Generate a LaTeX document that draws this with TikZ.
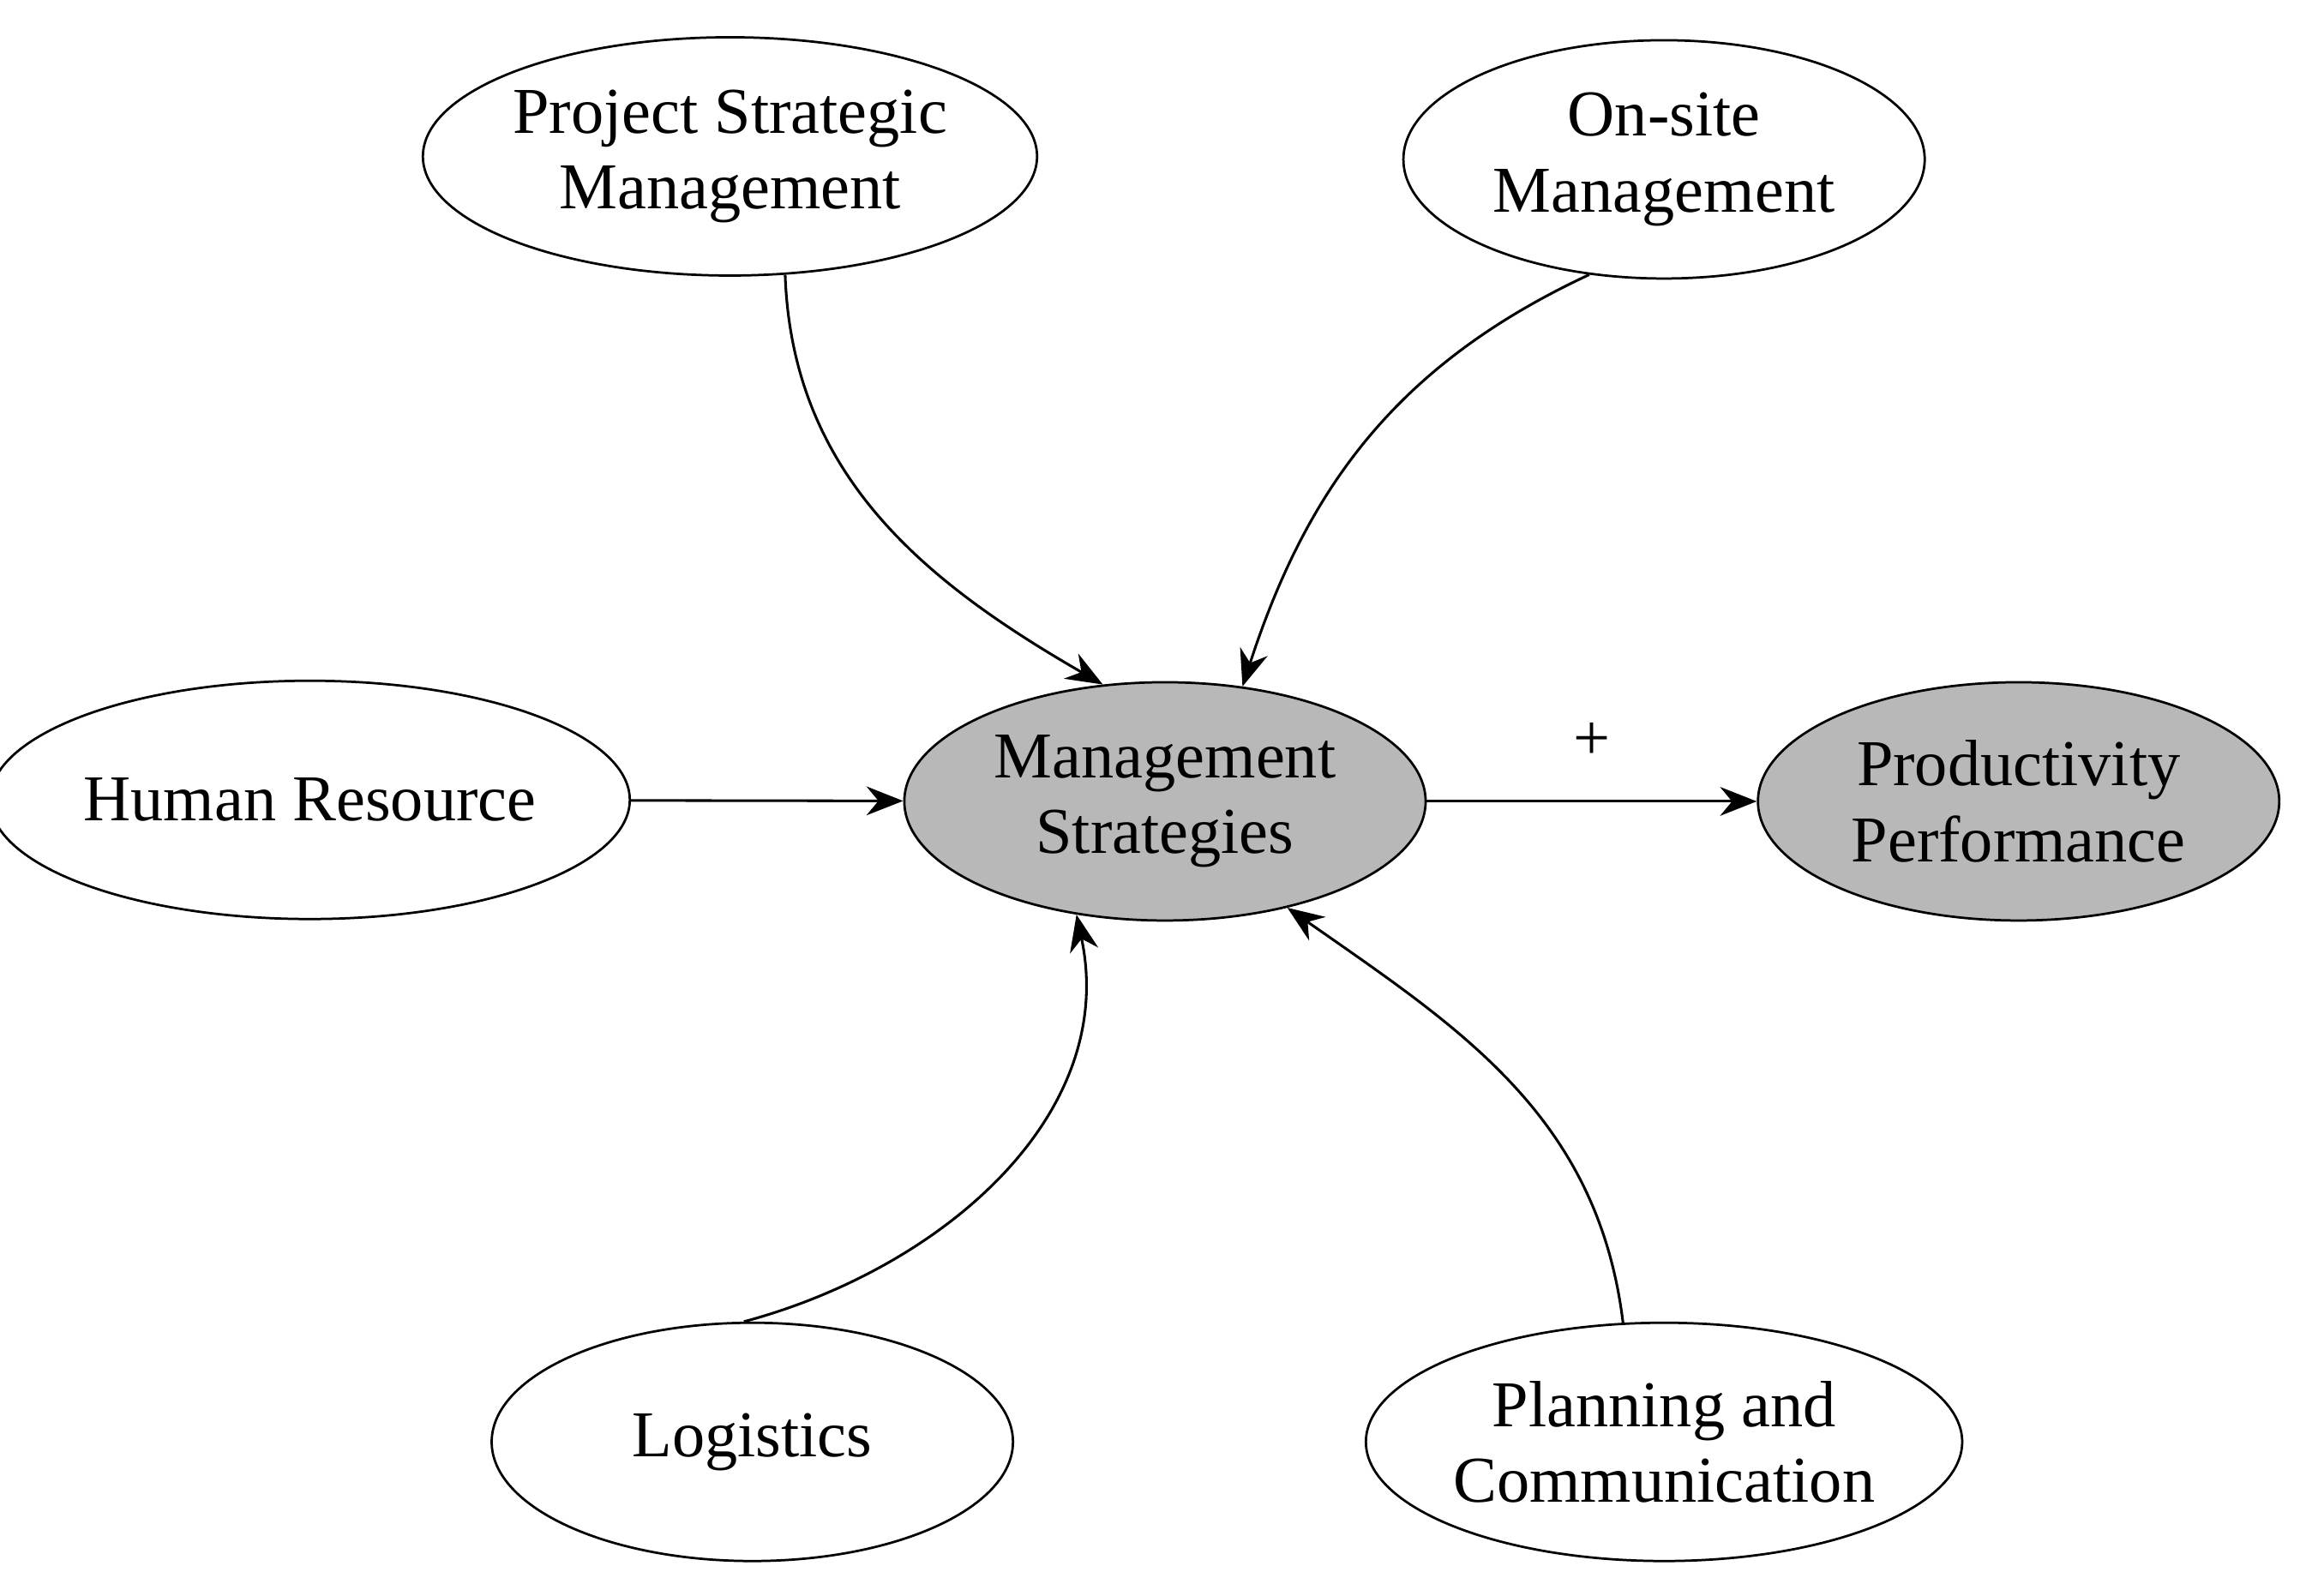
\documentclass[tikz,border=0pt]{standalone}
\usepackage{fontspec}
\setmainfont{Liberation Serif}
\usetikzlibrary{shapes.geometric,arrows.meta}
\begin{document}
\begin{tikzpicture}[x=0.02cm,y=-0.02cm,
  ell/.style={ellipse,draw,line width=0.9pt,minimum width=7cm,minimum height=3.2cm,inner sep=0pt,align=center,font=\fontsize{25}{29}\selectfont},
  gr/.style={fill=black!28},
  arr/.style={line width=1pt,-{Stealth[length=14pt,width=11pt]}}]
\useasboundingbox (0,0) rectangle (1560,1071);
\node[ell] (psm) at (490,105) {Project Strategic\\Management};
\node[ell] (os) at (1117,107) {On-site\\Management};
\node[ell] (hr) at (208,537) {Human Resource};
\node[ell,gr] (ms) at (782,538) {Management\\Strategies};
\node[ell,gr] (pp) at (1355,538) {Productivity\\Performance};
\node[ell] (lg) at (505,968) {Logistics};
\node[ell] (pc) at (1117,968) {Planning and\\Communication};
\draw[arr] (psm.-65) to[out=-88,in=150] (ms.118);
\draw[arr] (os.-123) to[out=-155,in=72] (ms.56);
\draw[arr] (hr) -- (ms);
\draw[arr] (ms) -- node[above=12pt,font=\fontsize{25}{29}\selectfont] (plus) {+} (pp);
\draw[arr] (lg.94) to[out=15,in=-78] (ms.-128);
\draw[arr] (pc.109) to[out=97,in=-35] (ms.-41);
\end{tikzpicture}
\end{document}
